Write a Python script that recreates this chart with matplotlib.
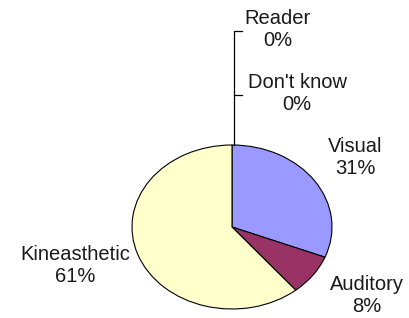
import matplotlib.pyplot as plt

# learning style survey
labels = ["Reader", "Don't know", "Visual", "Auditory", "Kineasthetic"]
values = [0, 0, 31, 8, 61]
colors = ["#FFFFFF", "#FFFFFF", "#9999FF", "#993366", "#FFFFCC"]

W, H = 410, 318
fig = plt.figure(figsize=(W / 100, H / 100), dpi=100)
plt.rcParams['font.family'] = ['Liberation Sans', 'DejaVu Sans']

# pie is drawn as an ellipse (original was stretched sideways)
cx, cy, rx, ry = 232, 227, 100, 82
ax = fig.add_axes([(cx - rx) / W, (H - cy - ry) / H, 2 * rx / W, 2 * ry / H])
ax.pie(values, colors=colors, startangle=90, counterclock=False,
       wedgeprops=dict(edgecolor='black', linewidth=0.8))
ax.set_aspect('auto')
ax.set_xlim(-1, 1)
ax.set_ylim(-1, 1)
ax.axis('off')


def d(px, py):
    return (px - cx) / rx, (cy - py) / ry


# label positions in pixel coords
pos = {
    "Reader": (278, 30),
    "Don't know": (297, 94),
    "Visual": (355, 157),
    "Auditory": (367, 296),
    "Kineasthetic": (75, 265),
}
for lab, v in zip(labels, values):
    x, y = d(*pos[lab])
    ax.text(x, y, f"{lab}\n{v}%", ha='center', va='center', fontsize=14.5,
            color='#1a1a1a', linespacing=1.2, clip_on=False)

# leader lines for the 0% slices
x0, _ = d(234, 0)
x1, _ = d(242, 0)
_, ytop = d(0, 31)
_, ymid = d(0, 95)
ax.plot([x1, x0, x0], [ytop, ytop, 1.0], color='black', lw=0.9, clip_on=False)
ax.plot([x0, x1], [ymid, ymid], color='black', lw=0.9, clip_on=False)

fig.savefig("out.png", dpi=100)
